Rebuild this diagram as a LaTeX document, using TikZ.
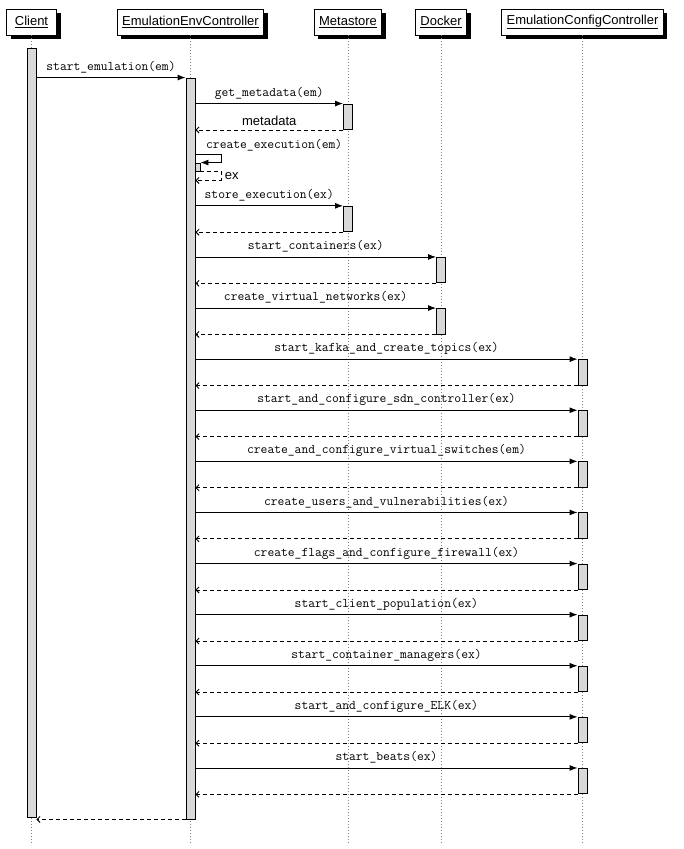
\documentclass[tikz,border=0pt]{standalone}
\usepackage{fontspec}
\setsansfont{Liberation Sans}
\usetikzlibrary{arrows.meta,shadows,positioning}

\tikzset{
    actor/.style={draw, fill=white, line width=0.9pt, font=\sffamily\fontsize{13}{15}\selectfont,
        inner xsep=5pt, minimum height=26pt, minimum width=50pt,
        drop shadow={fill=black, opacity=1, shadow xshift=4pt, shadow yshift=-4pt}},
    lifeline/.style={gray, line width=0.7pt, dash pattern=on 1pt off 2pt},
    act/.style={draw, fill=black!15, line width=0.9pt, minimum width=9pt, minimum height=25.5pt, inner sep=0pt},
    call/.style={line width=0.9pt, -{Latex[length=8pt,width=6pt]}},
    ret/.style={line width=0.9pt, dash pattern=on 4pt off 3pt, -{Straight Barb[length=3pt,width=6pt]}},
    msg/.style={font=\ttfamily\fontsize{13.2}{15}\selectfont, inner sep=1pt, above=3pt},
    reply/.style={font=\sffamily\fontsize{13}{15}\selectfont, inner sep=1pt}
}

\begin{document}
\begin{tikzpicture}[x=1pt, y=-1pt]
    \useasboundingbox (0,0) rectangle (683,849);

    % Participants
    \node[actor] (client) at (31.5,22) {\underline{Client}};
    \node[actor] (eec) at (190.5,22) {\underline{EmulationEnvController}};
    \node[actor] (meta) at (348,22) {\underline{Metastore}};
    \node[actor] (docker) at (441,22) {\underline{Docker}};
    \node[actor] (ecc) at (582.5,22) {\underline{EmulationConfigController}};

    % Lifelines
    \foreach \p in {client, eec, meta, docker, ecc} {
        \coordinate (\p end) at (\p.south |- 0,845);
        \draw[lifeline] (\p.south) -- (\p end);
    }

    % Activations
    \node[act, minimum height=769pt] (clientact) at (31.5,432.5) {};
    \node[act, minimum height=741pt] (eecact) at (190.5,448.5) {};

    % start_emulation
    \draw[call] (clientact.east |- eecact.north) -- (eecact.north west)
        node[msg, midway] {start\_emulation(em)};

    % get_metadata
    \node[act] (metaA) at (348,116.75) {};
    \draw[call] (eecact.east |- metaA.north) -- (metaA.north west)
        node[msg, midway] {get\_metadata(em)};
    \draw[ret] (metaA.south west) -- (eecact.east |- metaA.south)
        node[reply, midway, above=3pt] {metadata};

    % create_execution (self call)
    \node[act, minimum width=5pt, minimum height=8pt] (selfact) at (197.5,167) {};
    \draw[call] ([yshift=8pt]selfact.north east -| eecact.east) -- ++(26,0) |- (selfact.north east);
    \node[font=\ttfamily\fontsize{13.2}{15}\selectfont, inner sep=1pt, anchor=south west] (selflbl) at (205,152) {create\_execution(em)};
    \draw[ret] (selfact.south east) -- ++(21,0) |- node[reply, pos=0.25, right=2pt] {ex}
        ([yshift=-9pt]eecact.east |- selfact.south);

    % store_execution
    \node[act] (metaB) at (348,219) {};
    \draw[call] (eecact.east |- metaB.north) -- (metaB.north west)
        node[msg, midway] {store\_execution(ex)};
    \draw[ret] (metaB.south west) -- (eecact.east |- metaB.south);

    % Docker calls
    \node[act] (dockA) at (441,270.15) {};
    \draw[call] (eecact.east |- dockA.north) -- (dockA.north west)
        node[msg, midway] {start\_containers(ex)};
    \draw[ret] (dockA.south west) -- (eecact.east |- dockA.south);

    \node[act] (dockB) at (441,321.25) {};
    \draw[call] (eecact.east |- dockB.north) -- (dockB.north west)
        node[msg, midway] {create\_virtual\_networks(ex)};
    \draw[ret] (dockB.south west) -- (eecact.east |- dockB.south);

    % EmulationConfigController calls
    \foreach \lbl [count=\i] in {start\_kafka\_and\_create\_topics(ex),
            start\_and\_configure\_sdn\_controller(ex),
            create\_and\_configure\_virtual\_switches(em),
            create\_users\_and\_vulnerabilities(ex),
            create\_flags\_and\_configure\_firewall(ex),
            start\_client\_population(ex),
            start\_container\_managers(ex),
            start\_and\_configure\_ELK(ex),
            start\_beats(ex)} {
        \node[act] (cfg\i) at (582.5,{372.35+51.1*(\i-1)}) {};
        \draw[call] (eecact.east |- cfg\i.north) -- (cfg\i.north west)
            node[msg, midway] {\lbl};
        \draw[ret] (cfg\i.south west) -- (eecact.east |- cfg\i.south);
    }

    % Final return
    \draw[ret] (eecact.south west) -- (clientact.east |- eecact.south);
\end{tikzpicture}
\end{document}
